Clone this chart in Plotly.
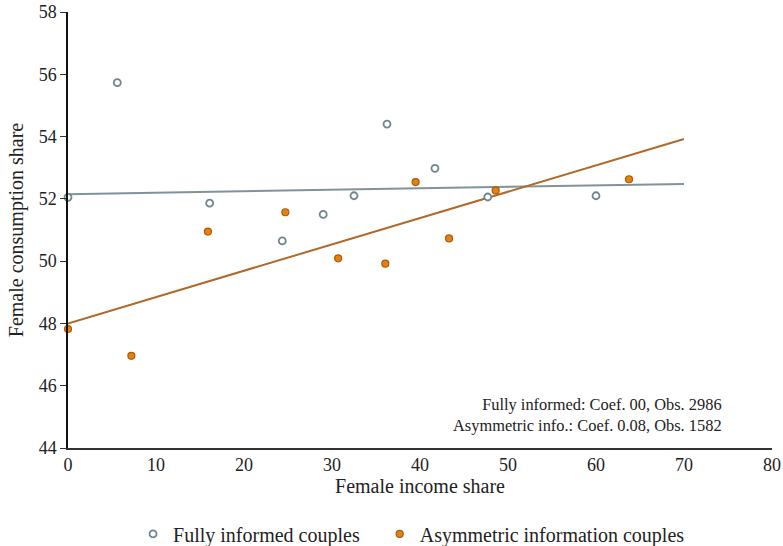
import plotly.graph_objects as go

# Binned scatter data
fully_x = [0, 5.6, 16.1, 24.35, 29.0, 32.5, 36.25, 41.7, 47.7, 60.0]
fully_y = [52.05, 55.73, 51.86, 50.65, 51.5, 52.1, 54.4, 52.98, 52.06, 52.1]

asym_x = [0, 7.2, 15.9, 24.7, 30.7, 36.06, 39.5, 43.3, 48.6, 63.75]
asym_y = [47.82, 46.96, 50.95, 51.57, 50.09, 49.92, 52.54, 50.73, 52.27, 52.63]

# Fitted lines
fit_x = [0, 70]
fully_fit = [52.15, 52.48]
asym_fit = [48.0, 53.92]

x_ticks = [0, 10, 20, 30, 40, 50, 60, 70, 80]
y_ticks = [44, 46, 48, 50, 52, 54, 56, 58]

gray_line = "#7f9399"
gray_mark = "#6f868e"
orange_fill = "#e8800e"
orange_edge = "#a95a0c"
orange_line = "#b0692a"

font_family = "Liberation Serif"

fig = go.Figure()
fig.add_trace(go.Scatter(x=fit_x, y=fully_fit, mode="lines",
                         line=dict(color=gray_line, width=2), showlegend=False, hoverinfo="skip"))
fig.add_trace(go.Scatter(x=fit_x, y=asym_fit, mode="lines",
                         line=dict(color=orange_line, width=2), showlegend=False, hoverinfo="skip"))
fig.add_trace(go.Scatter(x=fully_x, y=fully_y, mode="markers", name="Fully informed couples   ",
                         marker=dict(size=7, color="white", line=dict(color=gray_mark, width=1.8)),
                         cliponaxis=False))
fig.add_trace(go.Scatter(x=asym_x, y=asym_y, mode="markers", name="Asymmetric information couples",
                         marker=dict(size=7, color=orange_fill, line=dict(color=orange_edge, width=1.2)),
                         cliponaxis=False))

fig.add_annotation(x=1.0, xref="paper", y=44.34, yref="y", xanchor="right", yanchor="bottom",
                   showarrow=False, align="right", xshift=-48,
                   text="Fully informed: Coef. 00, Obs. 2986<br>Asymmetric info.: Coef. 0.08, Obs. 1582",
                   font=dict(family=font_family, size=16.4, color="#222222"))

fig.update_layout(
    width=783, height=546,
    margin=dict(l=68, r=11, t=12, b=98, autoexpand=False),
    paper_bgcolor="white", plot_bgcolor="white",
    font=dict(family=font_family, size=18, color="#222222"),
    legend=dict(orientation="h", x=0.488, xanchor="center", y=-0.197, yanchor="middle",
                font=dict(size=20), itemsizing="trace", itemwidth=30,
                traceorder="normal"),
    xaxis=dict(range=[0, 80], tickvals=x_ticks, showgrid=False, zeroline=False, automargin=False,
               showline=True, linecolor="#333333", linewidth=1.5, ticks="",
               title=dict(text="Female income share", font=dict(size=20), standoff=3),
               tickfont=dict(size=18)),
    yaxis=dict(range=[44, 58], tickvals=y_ticks, showgrid=False, zeroline=False, automargin=False,
               showline=True, linecolor="#111111", linewidth=1.5, ticks="outside",
               ticklen=6, tickcolor="#333333",
               title=dict(text="Female consumption share", font=dict(size=20), standoff=10),
               tickfont=dict(size=18)),
)

fig.write_html("out.html", config={"displayModeBar": False},
               post_script="document.body.style.margin='0';")
